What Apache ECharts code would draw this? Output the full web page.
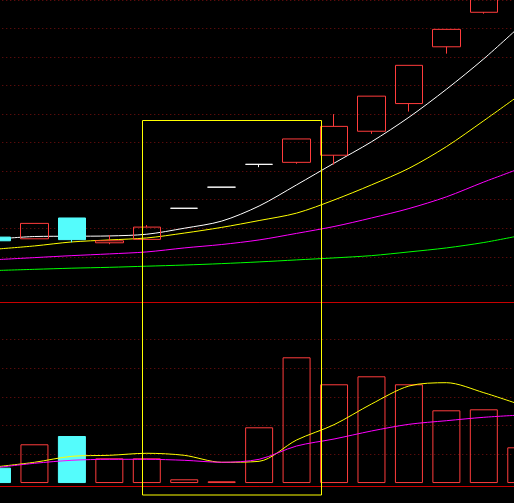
<!DOCTYPE html>
<html><head><meta charset="utf-8">
<script src="https://cdn.jsdelivr.net/npm/echarts@6/dist/echarts.min.js"></script>
<style>html,body{margin:0;padding:0;background:#000;overflow:hidden;width:514px;height:503px}
#wrap{position:relative;width:514px;height:503px;overflow:hidden}
#c{position:absolute;left:-22px;top:0;width:562px;height:503px}</style>
</head><body><div id="wrap"><div id="c"></div></div><script>
// ---- data ----
const categories = ['D01','D02','D03','D04','D05','D06','D07','D08','D09','D10','D11','D12','D13','D14','D15'];
const opens  = [11.69, 11.63, 12.36, 11.49, 11.61, 12.70, 13.44, 14.24, 14.31, 14.56, 15.40, 16.37, 18.36, 19.57, 20.70];
const closes = [11.56, 12.17, 11.60, 11.56, 12.04, 12.70, 13.44, 14.24, 15.13, 15.57, 16.63, 17.71, 18.97, 20.53, 21.75];
const lows   = [11.56, 11.63, 11.51, 11.44, 11.61, 12.70, 13.44, 14.14, 14.26, 14.23, 15.31, 16.09, 18.12, 19.52, 20.60];
const highs  = [11.69, 12.17, 12.36, 11.76, 12.11, 12.70, 13.44, 14.24, 15.13, 16.00, 16.63, 17.71, 18.97, 20.53, 21.80];
const ma5    = [11.62, 11.71, 11.72, 11.73, 11.79, 12.00, 12.25, 12.78, 13.52, 14.28, 15.03, 15.89, 16.87, 17.94, 19.12];
const ma10   = [11.27, 11.38, 11.52, 11.59, 11.66, 11.83, 12.03, 12.27, 12.53, 12.99, 13.52, 14.10, 14.86, 15.77, 16.71];
const ma20   = [10.90, 10.97, 11.04, 11.10, 11.17, 11.31, 11.43, 11.59, 11.82, 12.06, 12.36, 12.69, 13.10, 13.62, 14.11];
const ma60   = [10.52, 10.56, 10.60, 10.63, 10.67, 10.71, 10.76, 10.82, 10.89, 10.96, 11.04, 11.17, 11.31, 11.50, 11.75];
const volumes = [10700, 26960, 32730, 17220, 17220, 2610, 1220, 38780, 87480, 68700, 74260, 68700, 50610, 51300, 24870];
const volMa5  = [11370, 14440, 18610, 19300, 20700, 19300, 14440, 15130, 29950, 40590, 54990, 67510, 69810, 62850, 54300];
const volMa10 = [10820, 13740, 15830, 16520, 16520, 15830, 14440, 16520, 25770, 30640, 36210, 40870, 43370, 45740, 47340];
const priceTicks = {min: 10, max: 20, interval: 1};
const volTicks = {min: 0, max: 100000, interval: 20000};

// ---- style ----
const UP = '#ff3c3c', DOWN = '#54fcfc', DOJI = '#ffffff';
const GRIDC = '#7a1010', AXISC = '#c80000';
const SHIFT = 22; // container is shifted left so edge candles are cut like the reference

const candleData = categories.map((c, i) => {
  const item = {value: [opens[i], closes[i], lows[i], highs[i]]};
  if (opens[i] === closes[i]) item.itemStyle = {borderColor: DOJI, borderColor0: DOJI};
  return item;
});
const isUp = categories.map((c, i) => closes[i] >= opens[i]);
const volData = volumes.map((v, i) => ({
  value: v,
  itemStyle: isUp[i]
    ? {color: 'rgba(0,0,0,0)', borderColor: UP, borderWidth: 1}
    : {color: DOWN, borderColor: DOWN, borderWidth: 1}
}));

const chart = echarts.init(document.getElementById('c'), null, {renderer: 'canvas'});
const splitLine = {show: true, lineStyle: {color: GRIDC, width: 1, type: [1, 3]}};
const lineSeries = (name, data, color, xi, yi, z) => ({
  name, type: 'line', data, xAxisIndex: xi, yAxisIndex: yi, z,
  symbol: 'none', smooth: 0.3, lineStyle: {color, width: 1}, itemStyle: {color}, animation: false
});

chart.setOption({
  backgroundColor: '#000',
  animation: false,
  grid: [
    {left: 0.27, width: 561.9, top: 0, height: 285.3},
    {left: 0.27, width: 561.9, top: 339.3, height: 143.75}
  ],
  xAxis: [
    {type: 'category', gridIndex: 0, data: categories, boundaryGap: true, offset: 17,
     axisLine: {show: true, onZero: false, lineStyle: {color: AXISC, width: 1}}, axisTick: {show: false}, axisLabel: {show: false}, splitLine: {show: false}},
    {type: 'category', gridIndex: 1, data: categories, boundaryGap: true, offset: 3,
     axisLine: {show: true, onZero: false, lineStyle: {color: AXISC, width: 1}}, axisTick: {show: false}, axisLabel: {show: false}, splitLine: {show: false}}
  ],
  yAxis: [
    {type: 'value', gridIndex: 0, min: priceTicks.min, max: priceTicks.max, interval: priceTicks.interval,
     axisLine: {show: false}, axisTick: {show: false}, axisLabel: {show: false}, splitLine},
    {type: 'value', gridIndex: 1, min: volTicks.min, max: volTicks.max, interval: volTicks.interval,
     axisLine: {show: false}, axisTick: {show: false}, axisLabel: {show: false},
     splitLine: Object.assign({}, splitLine, {showMinLine: false})}
  ],
  series: [
    lineSeries('MA5', ma5, '#ffffff', 0, 0, 2),
    lineSeries('MA10', ma10, '#ffff00', 0, 0, 2),
    lineSeries('MA20', ma20, '#ff00ff', 0, 0, 2),
    lineSeries('MA60', ma60, '#00ff00', 0, 0, 2),
    {name: 'K', type: 'candlestick', xAxisIndex: 0, yAxisIndex: 0, z: 3, barWidth: 28, clip: true,
     data: candleData,
     itemStyle: {color: 'rgba(0,0,0,0)', color0: DOWN, borderColor: UP, borderColor0: DOWN, borderColorDoji: DOJI, borderWidth: 1}},
    {name: 'VOL', type: 'bar', xAxisIndex: 1, yAxisIndex: 1, z: 2, barWidth: 28, data: volData},
    lineSeries('VMA5', volMa5, '#ffff00', 1, 1, 3),
    lineSeries('VMA10', volMa10, '#ff00ff', 1, 1, 3)
  ],
  graphic: [
    {type: 'rect', z: 100, shape: {x: 142.5 + SHIFT, y: 120.5, width: 179, height: 374.5},
     style: {fill: 'none', stroke: '#ffff00', lineWidth: 1}}
  ]
});
</script></body></html>
